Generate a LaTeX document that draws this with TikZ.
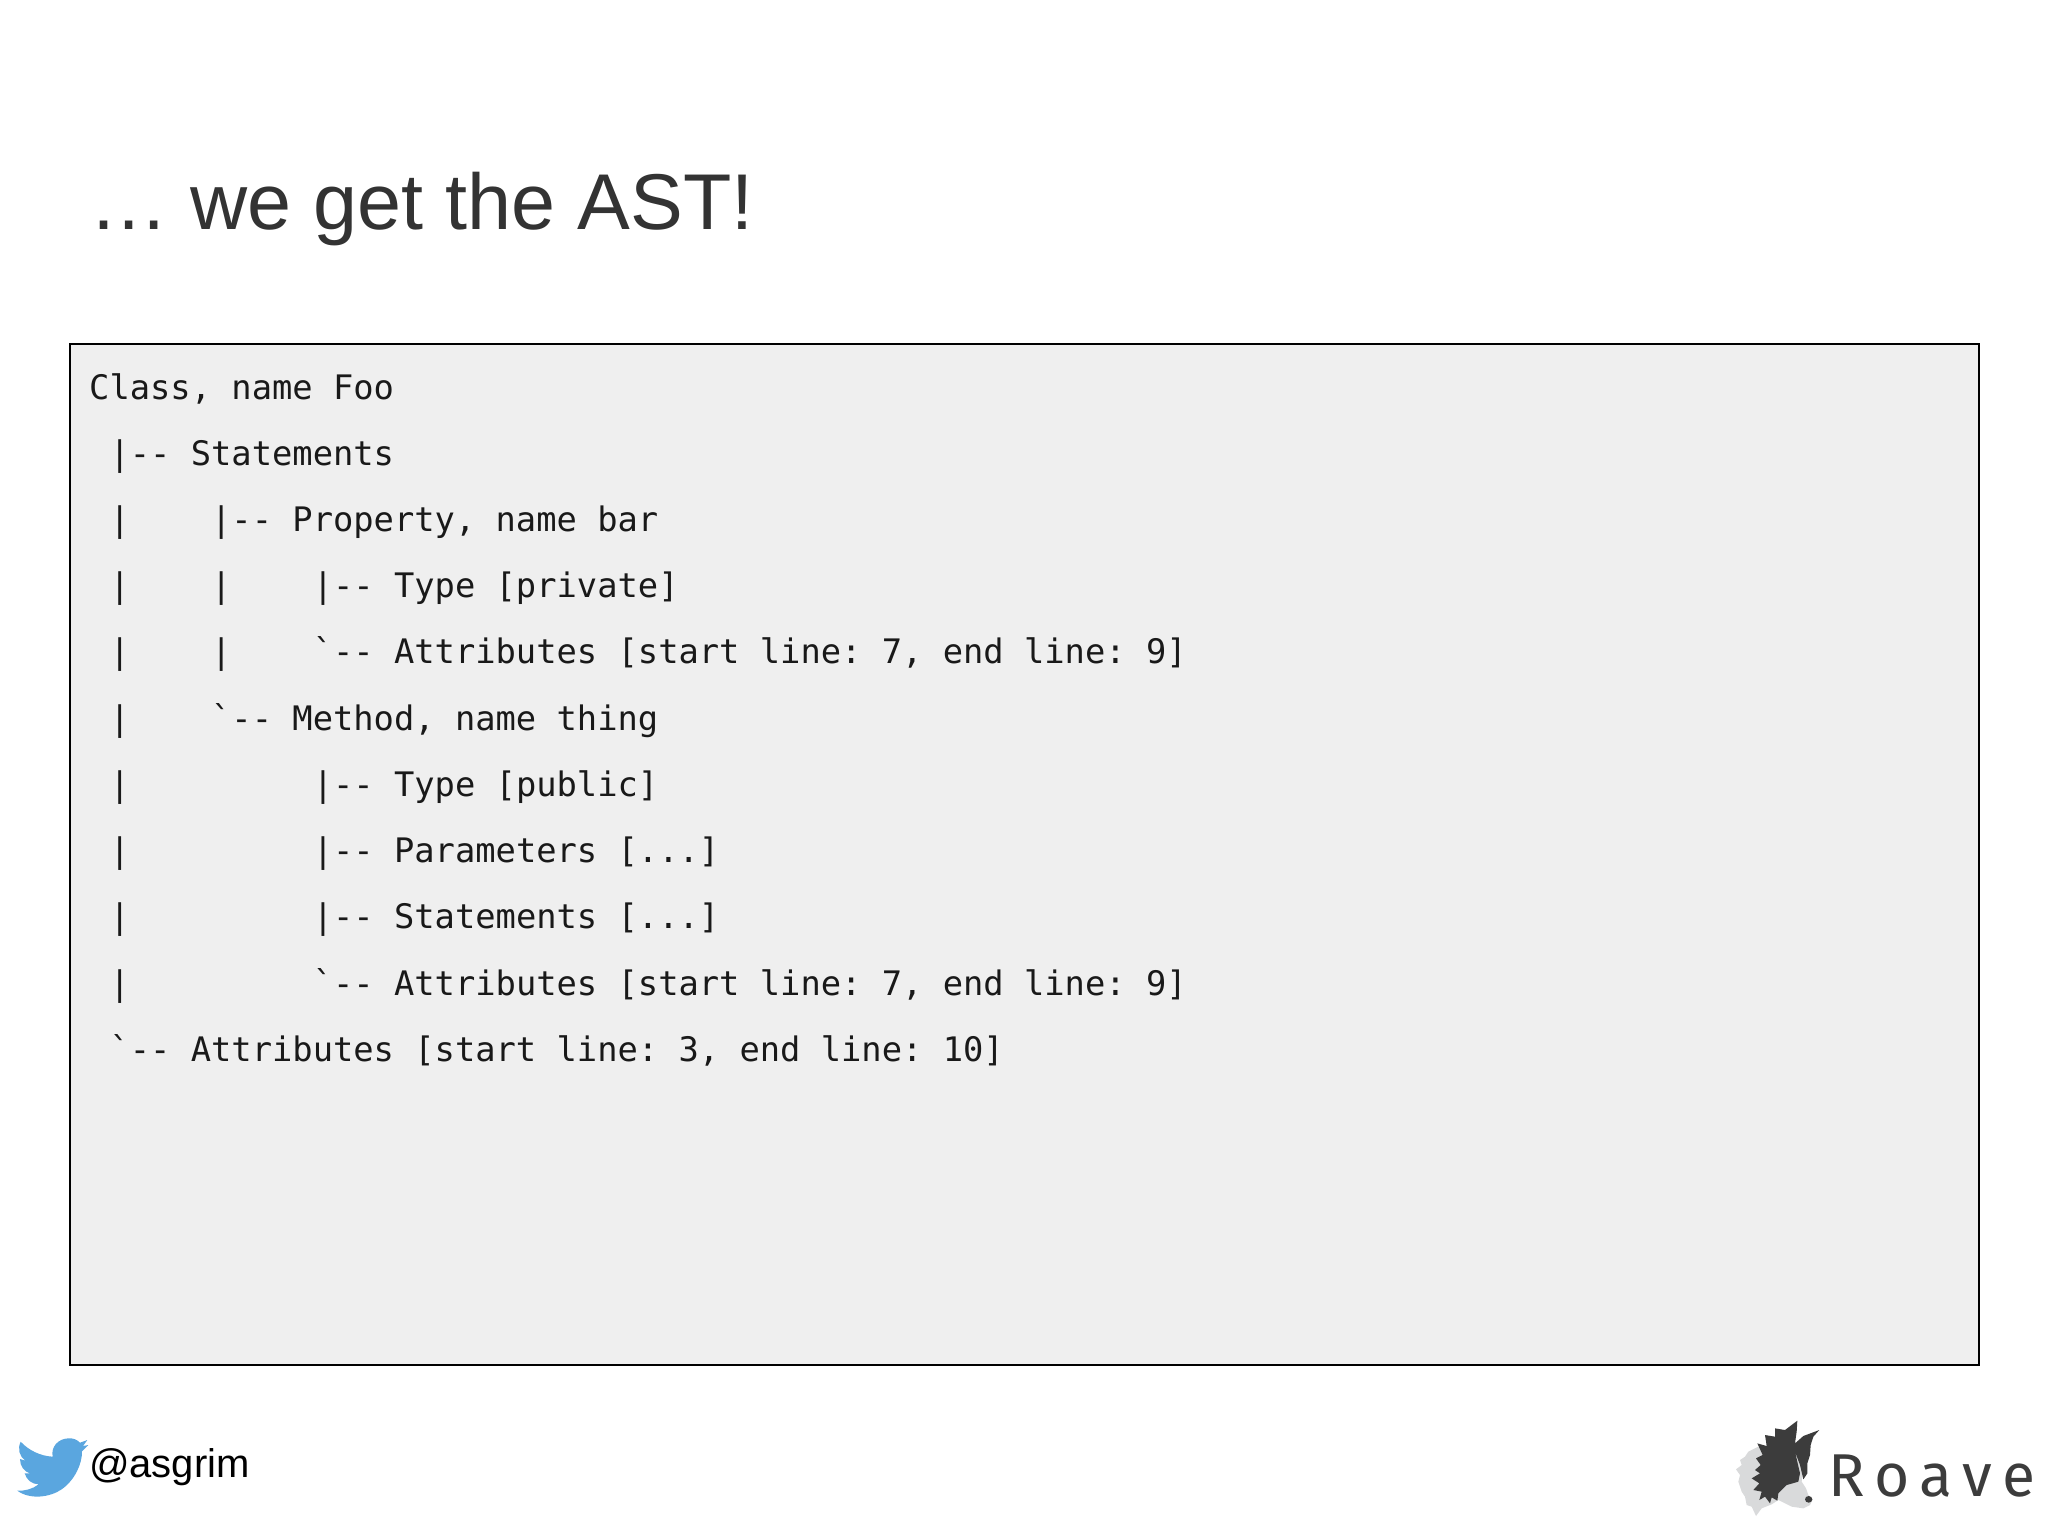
\documentclass[tikz,border=0pt]{standalone}
\usepackage{fontspec}
\setmainfont{Liberation Sans}
\setmonofont{DejaVu Sans Mono}
\newfontfamily\roavefont[LetterSpace=17.5]{Fira Sans}
\definecolor{boxgray}{HTML}{EFEFEF}
\definecolor{titlegray}{HTML}{333333}
\definecolor{roavedark}{HTML}{3C3C3C}
\definecolor{roavelight}{HTML}{D9DADB}
\definecolor{birdblue}{HTML}{5AA6DF}
\tikzset{
	codeline/.style={anchor=base west,inner sep=0pt,text=black!90,font=\ttfamily\fontsize{9.6}{12}\selectfont},
	titleline/.style={anchor=base west,inner sep=0pt,text=titlegray,font=\fontsize{22.5}{27}\selectfont},
}
\begin{document}
\begin{tikzpicture}[x=0.01cm,y=-0.01cm]
	    \useasboundingbox (0,0) rectangle (2048,1536);
	    \node[titleline] (title) at (89,229) {… we get the AST!};
	    \filldraw[fill=boxgray,draw=black,line width=0.57pt](70,344) rectangle (1979,1365);
	    \node[codeline] (l1) at (88.5,399) {Class, name Foo};
	    \node[codeline] (l2) at (88.5,465) {~|-- Statements};
	    \node[codeline] (l3) at (88.5,531.5) {~|~~~~|-- Property, name bar};
	    \node[codeline] (l4) at (88.5,597.5) {~|~~~~|~~~~|-- Type [private]};
	    \node[codeline] (l5) at (88.5,663.5) {~|~~~~|~~~~`-- Attributes [start line: 7, end line: 9]};
	    \node[codeline] (l6) at (88.5,730) {~|~~~~`-- Method, name thing};
	    \node[codeline] (l7) at (88.5,796) {~|~~~~~~~~~|-- Type [public]};
	    \node[codeline] (l8) at (88.5,862.5) {~|~~~~~~~~~|-- Parameters [...]};
	    \node[codeline] (l9) at (88.5,928.5) {~|~~~~~~~~~|-- Statements [...]};
	    \node[codeline] (l10) at (88.5,995) {~|~~~~~~~~~`-- Attributes [start line: 7, end line: 9]};
	    \node[codeline] (l11) at (88.5,1061) {~`-- Attributes [start line: 3, end line: 10]};
	    \begin{scope}[shift={(0,1420)},scale=1/3]
	        \fill[birdblue](205,55) .. controls (222,54) and (232,60) .. (240,68)
	            -- (262,60) -- (249,78) -- (265,75) -- (246,94)
	            .. controls (247,130) and (225,180) .. (185,208)
	            .. controls (150,232) and (90,240) .. (52,212)
	            .. controls (75,213) and (98,207) .. (116,193)
	            .. controls (95,192) and (80,180) .. (74,160)
	            -- (90,160) .. controls (72,155) and (60,138) .. (60,117)
	            -- (76,122) .. controls (58,110) and (52,85) .. (62,65)
	            .. controls (85,90) and (120,108) .. (158,110)
	            .. controls (152,80) and (175,56) .. (205,55) -- cycle;
	        \node[anchor=base west,inner sep=0pt,font=\fontsize{11.37}{13}\selectfont] (handle) at (265,171) {@asgrim};
	    \end{scope}
	    \begin{scope}[shift={(1720,1410)},scale=1/3]
	        \fill[roavelight](115,110) -- (85,125) -- (75,140) -- (60,150) -- (65,165) -- (48,178) -- (60,195)
	            -- (55,215) -- (65,245) -- (75,260) -- (80,285) -- (95,290) -- (108,318) -- (125,295) -- (155,283)
	            -- (175,270) -- (215,290) -- (250,295) -- (270,285) -- (278,268) -- (265,255) -- (258,235)
	            -- (245,215) -- (250,170) -- (235,125) -- (225,115) -- cycle;
	        \fill[roavedark](232,32) -- (230,65) -- (225,100) -- (250,78) -- (298,60) -- (280,80) -- (272,105)
	            -- (270,135) -- (262,160) -- (262,190) -- (250,208) -- (240,165) -- (225,125) -- (240,190)
	            -- (235,215) -- (200,225) -- (175,250) -- (172,272) -- (155,262) -- (150,280) -- (135,260)
	            -- (118,270) -- (125,245) -- (100,240) -- (118,220) -- (95,205) -- (120,190) -- (105,180)
	            -- (122,165) -- (108,145) -- (128,135) -- (112,100) -- (140,108) -- (135,75) -- (165,80)
	            -- (165,55) -- (195,60) -- cycle;
	        \fill[roavedark](266,268) ellipse (11 and 10);
	        \node[anchor=base west,inner sep=0pt,text=roavedark,font=\roavefont\fontsize{17.2}{20}\selectfont] (roave) at (323,258) {Roave};
	    \end{scope}
	\end{tikzpicture}
\end{document}
